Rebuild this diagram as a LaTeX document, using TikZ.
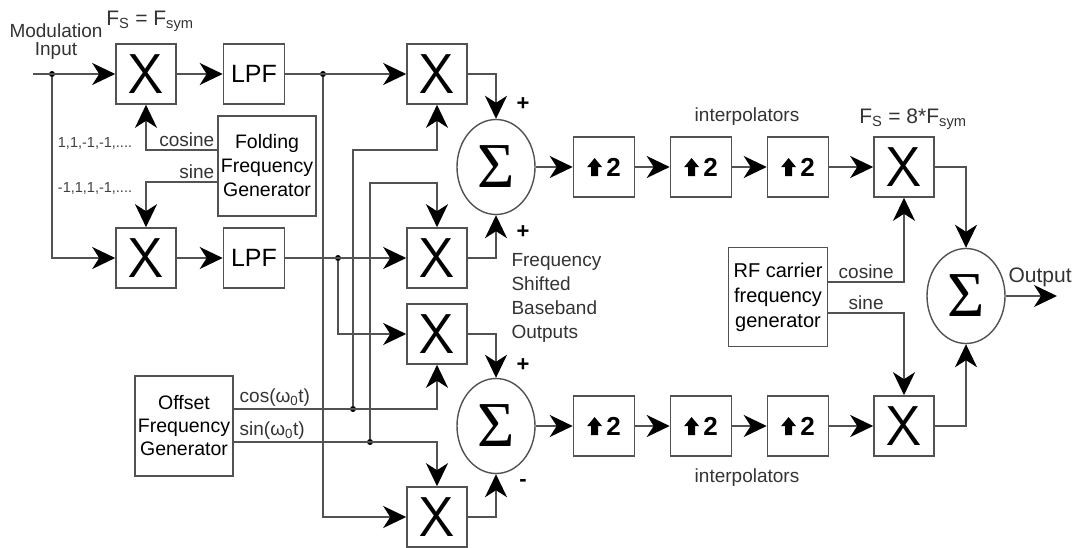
\documentclass[tikz,border=0pt]{standalone}
\usepackage{fontspec}
\setmainfont{Liberation Sans}
\newfontfamily\sigmafont{Liberation Serif}
\usepackage{tikz}
\usetikzlibrary{positioning, shapes, arrows.meta}
\definecolor{wiregray}{gray}{0.32}
\newcommand{\upglyph}{\tikz[baseline=0pt]\fill[black] (-3.5pt,0pt) rectangle (3.5pt,9pt) (-7.5pt,9pt) -- (0pt,18pt) -- (7.5pt,9pt) -- cycle;}

\begin{document}
\begin{tikzpicture}[x=1pt, y=-1pt, node distance=97pt, auto]
% Define block styles
\tikzstyle{mixer} = [rectangle, draw=wiregray, line width=1.6pt,
    minimum size=60pt, inner sep=0pt, font=\fontsize{56}{56}\sffamily]
\tikzstyle{block} = [rectangle, draw=wiregray, line width=1.6pt,
    minimum width=61pt, minimum height=60pt, inner sep=0pt, font=\fontsize{25}{25}\selectfont]
\tikzstyle{upblock} = [block, font=\fontsize{26}{26}\selectfont\bfseries]
\tikzstyle{generator} = [rectangle, draw=wiregray, line width=1.6pt,
    minimum width=98pt, minimum height=100pt, align=center, inner sep=1pt, font=\fontsize{19.5}{24}\selectfont]
\tikzstyle{adder} = [ellipse, draw=wiregray, line width=1.4pt,
    minimum width=78pt, minimum height=95pt, inner sep=0pt, font=\fontsize{64}{64}\sigmafont]
\tikzstyle{line} = [draw=wiregray, line width=1.8pt, -{Stealth[length=23pt, width=22pt, inset=7pt, black]}]
\tikzstyle{joint} = [circle, fill=black, inner sep=0pt, minimum size=6pt]
\tikzstyle{lbl} = [font=\fontsize{19}{22}\selectfont, text=black!80]
\tikzstyle{seq} = [font=\fontsize{14.5}{16}\selectfont, text=black!75]
\tikzstyle{sign} = [font=\fontsize{22}{22}\selectfont\bfseries]
\useasboundingbox (0,0) rectangle (1075,548);
    % Place nodes
    \node [lbl, align=center] (modin) at (56,42) {Modulation\\[-4pt]Input};
    \coordinate (in) at (33,74);
    \node [joint] (jin) at (52,74) {};
    \node [mixer] (mixI) at (146,74) {X};
    \node [mixer] (mixQ) at (146,258) {X};
    \node [lbl, font=\fontsize{21}{22}\selectfont] (fsin) at (150,21) {F\textsubscript{S} = F\textsubscript{sym}};
    \node [block] (lpfI) at (254,74) {LPF};
    \node [block] (lpfQ) at (254,258) {LPF};
    \node [generator] (fold) at (267,166) {Folding\\Frequency\\Generator};
    \node [seq] (seqI) at (95,143) {1,1,-1,-1,....};
    \node [seq] (seqQ) at (95,188) {-1,1,1,-1,....};
    \node [generator, font=\fontsize{19.5}{23}\selectfont] (offset) at (184,426) {Offset\\Frequency\\Generator};
    \node [joint] (jI) at (323,74) {};
    \node [joint] (jQ) at (338,258) {};
    \node [joint] (jcos) at (353,409) {};
    \node [joint] (jsin) at (370,442) {};
    \coordinate (cosTurn) at (353,150);
    \coordinate (sinTurn) at (370,183);
    \node [mixer] (shiftA) at (437,74) {X};
    \node [mixer] (shiftB) at (437,258) {X};
    \node [mixer] (shiftC) at (437,334) {X};
    \node [mixer] (shiftD) at (437,517) {X};
    \node [adder] (sumUp) at (496,167) {Σ};
    \node [adder] (sumDn) at (496,426) {Σ};
    \node [sign] (plusA) at (523,104) {+};
    \node [sign] (plusB) at (523,232) {+};
    \node [sign] (plusC) at (523,365) {+};
    \node [sign] (minusD) at (523,483) {-};
    \node [lbl, align=left, anchor=west, font=\fontsize{19}{24}\selectfont] (fsbb) at (508,298) {Frequency\\Shifted\\Baseband\\Outputs};
    \node [upblock] (upA1) at (604,167) {\upglyph\,2};
    \node [upblock, right of=upA1] (upA2) {\upglyph\,2};
    \node [upblock, right of=upA2] (upA3) {\upglyph\,2};
    \node [upblock] (upB1) at (604,426) {\upglyph\,2};
    \node [upblock, right of=upB1] (upB2) {\upglyph\,2};
    \node [upblock, right of=upB2] (upB3) {\upglyph\,2};
    \node [lbl] (interpA) at (747,117) {interpolators};
    \node [lbl] (interpB) at (747,478) {interpolators};
    \node [mixer] (rfmixI) at (904,167) {X};
    \node [mixer] (rfmixQ) at (904,426) {X};
    \node [lbl, font=\fontsize{21}{22}\selectfont] (fsout) at (913,119) {F\textsubscript{S} = 8*F\textsubscript{sym}};
    \node [generator, minimum width=99pt, minimum height=99pt, font=\fontsize{20}{25}\selectfont] (rfgen) at (778,297) {RF carrier\\frequency\\generator};
    \node [adder] (sumOut) at (966,296) {Σ};
    \coordinate (out) at (1057,296);
    \node [lbl, anchor=west, font=\fontsize{21}{22}\selectfont] (outlbl) at (1005,277) {Output};
    % Draw edges
    \path [line] (in) -- (mixI);
    \path [line] (jin) |- (mixQ);
    \path [line] (mixI) -- (lpfI);
    \path [line] (mixQ) -- (lpfQ);
    \path [line] ([yshift=16pt]fold.west) -| node [lbl, pos=0, above left, inner sep=2pt] {cosine} (mixI);
    \path [line] ([yshift=-16pt]fold.west) -| node [lbl, pos=0, above left, inner sep=2pt] {sine} (mixQ);
    \path [line] (lpfI) -- (shiftA);
    \path [line] (jI) |- (shiftD);
    \path [line] (lpfQ) -- (shiftB);
    \path [line] (jQ) |- (shiftC);
    \path [line] ([yshift=17pt]offset.east) -| node [lbl, pos=0, above right, xshift=3pt, inner sep=2pt] {cos(ω\textsubscript{0}t)} (shiftC);
    \path [line] ([yshift=-16pt]offset.east) -| node [lbl, pos=0, above right, xshift=3pt, inner sep=2pt] {sin(ω\textsubscript{0}t)} (shiftD);
    \path [line] (jcos) -- (cosTurn) -| (shiftA);
    \path [line] (jsin) -- (sinTurn) -| (shiftB);
    \path [line] (shiftA) -| (sumUp);
    \path [line] (shiftB) -| (sumUp);
    \path [line] (shiftC) -| (sumDn);
    \path [line] (shiftD) -| (sumDn);
    \path [line] (sumUp) -- (upA1);
    \path [line] (upA1) -- (upA2);
    \path [line] (upA2) -- (upA3);
    \path [line] (upA3) -- (rfmixI);
    \path [line] (sumDn) -- (upB1);
    \path [line] (upB1) -- (upB2);
    \path [line] (upB2) -- (upB3);
    \path [line] (upB3) -- (rfmixQ);
    \path [line] ([yshift=15pt]rfgen.east) -| node [lbl, pos=0.25, above, inner sep=2pt] {cosine} (rfmixI);
    \path [line] ([yshift=-16pt]rfgen.east) -| node [lbl, pos=0.25, above, inner sep=2pt] {sine} (rfmixQ);
    \path [line] (rfmixI) -| (sumOut);
    \path [line] (rfmixQ) -| (sumOut);
    \path [line] (sumOut) -- (out);
\end{tikzpicture}
\end{document}
